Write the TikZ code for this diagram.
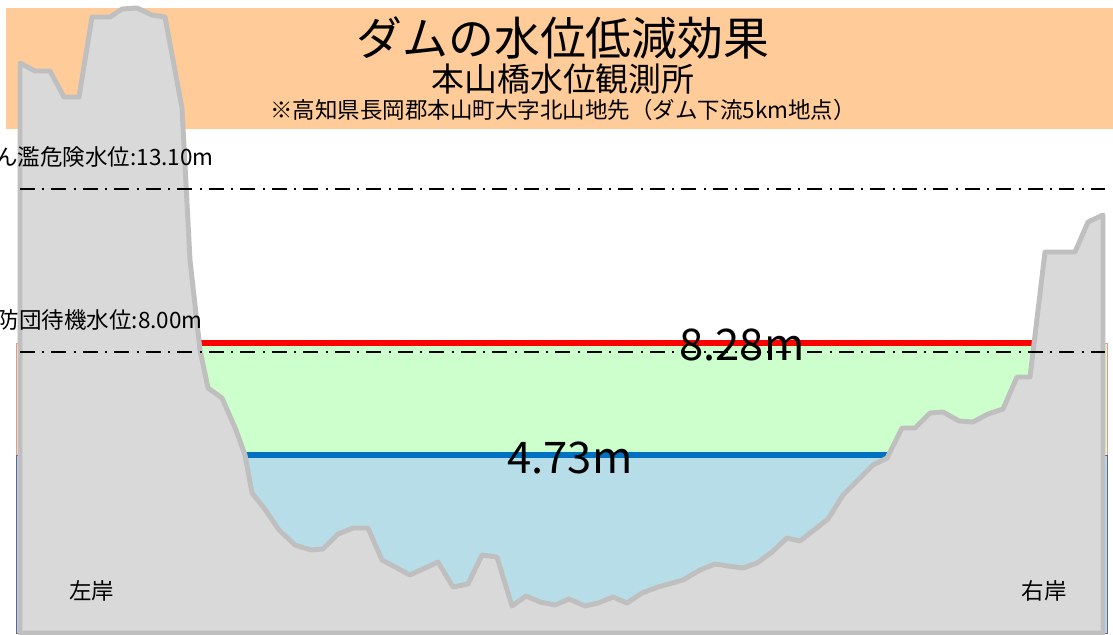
\documentclass[tikz,border=0pt]{standalone}
\usepackage{fontspec}
\setmainfont{Noto Sans CJK JP}
\definecolor{bandfill}{HTML}{FFCC99}
\definecolor{floodfill}{HTML}{CCFFCC}
\definecolor{riverfill}{HTML}{B7DEE8}
\definecolor{riverline}{HTML}{0070C0}
\definecolor{groundfill}{HTML}{D9D9D9}
\definecolor{groundline}{HTML}{BFBFBF}

\begin{document}
\begin{tikzpicture}[x=0.025cm, y=-0.025cm,
    ground/.style={fill=groundfill, draw=groundline, line width=3.5pt, line join=round},
    warnline/.style={black, line width=1.4pt, dash pattern=on 10.6pt off 5.2pt on 1.4pt off 5.2pt},
    warntext/.style={anchor=east, inner sep=0pt, font=\fontsize{16}{18}\selectfont},
    gauge/.style={inner sep=0pt, font=\fontsize{31}{34}\selectfont},
    banktext/.style={inner sep=0pt, font=\fontsize{16}{18}\selectfont}]
    \path[use as bounding box, fill=white] (0,0) rectangle (1113,635);
    \clip (0,0) rectangle (1113,635);

    \fill[bandfill] (6,8) rectangle (1113,129);

    \filldraw[fill=floodfill, draw=red!45, line width=0.5pt] (16,343) rectangle (1107,455);
    \filldraw[fill=riverfill, draw=blue!25!gray, line width=0.5pt] (16,455) rectangle (1107,633);

    \coordinate (maxL) at (200,343);
    \coordinate (maxR) at (1034,343);
    \coordinate (minL) at (243,455);
    \coordinate (minR) at (889,455);
    \draw[red, line width=4.3pt] (maxL) -- (maxR);
    \draw[riverline, line width=3.6pt] (minL) -- (minR);

    \draw[ground] (20,633) -- (20,63) -- (35,71) -- (50,71) -- (64,97) -- (79,97)
        -- (92,17) -- (110,17) -- (122,9) -- (137,8) -- (152,15) -- (165,17)
        -- (182,108) -- (190,260) -- (200,350) -- (208,388) -- (222,398)
        -- (236,430) -- (245,455) -- (252,493) -- (264,508) -- (279,530)
        -- (295,545) -- (311,550) -- (323,549) -- (338,534) -- (353,528)
        -- (368,528) -- (382,560) -- (410,575) -- (438,562) -- (453,587)
        -- (468,584) -- (482,555) -- (497,557) -- (512,606) -- (526,596)
        -- (540,602) -- (555,605) -- (569,599) -- (585,606) -- (598,603)
        -- (613,597) -- (627,603) -- (642,593) -- (658,587) -- (683,580)
        -- (700,570) -- (715,564) -- (728,566) -- (743,568) -- (757,563)
        -- (772,552) -- (787,538) -- (800,541) -- (828,519) -- (843,495)
        -- (873,465) -- (887,458) -- (902,428) -- (915,428) -- (930,413)
        -- (943,412) -- (959,421) -- (973,422) -- (988,414) -- (1003,409)
        -- (1017,377) -- (1030,377) -- (1045,252) -- (1075,252) -- (1088,222)
        -- (1103,215) -- (1103,633) -- cycle;

    \coordinate (dangerL) at (20,189);
    \coordinate (dangerR) at (1105,189);
    \coordinate (standbyL) at (20,352);
    \coordinate (standbyR) at (1105,352);
    \draw[warnline] (dangerL) -- (dangerR);
    \draw[warnline] (standbyL) -- (standbyR);

    \node[warntext] (lblDanger) at (214,157) {はん濫危険水位:13.10m};
    \node[warntext] (lblStandby) at (203,320) {水防団待機水位:8.00m};

    \node[gauge] (lblMax) at (742,345) {8.28m};
    \node[gauge] (lblMin) at (570,458) {4.73m};

    \node[banktext] (leftBank) at (92,591) {左岸};
    \node[banktext] (rightBank) at (1044,591) {右岸};

    \node[inner sep=0pt, font=\fontsize{32.6}{36}\selectfont] (title) at (563,38) {ダムの水位低減効果};
    \node[inner sep=0pt, font=\fontsize{23.4}{26}\selectfont] (subtitle) at (563,79) {本山橋水位観測所};
    \node[inner sep=0pt, font=\fontsize{16}{18}\selectfont] (place) at (563,110) {※高知県長岡郡本山町大字北山地先（ダム下流5km地点）};
\end{tikzpicture}
\end{document}
